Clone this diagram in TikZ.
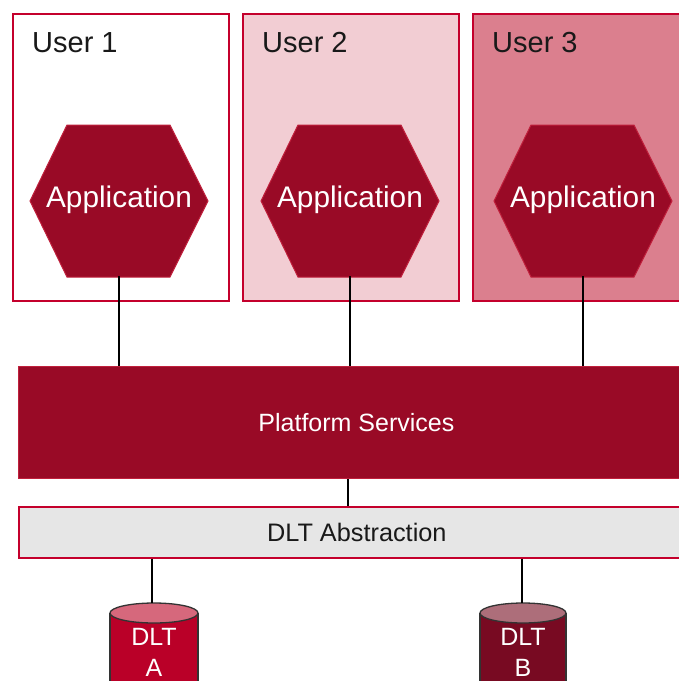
\documentclass[tikz,border=0pt]{standalone}
\usepackage{fontspec}
\setmainfont{Liberation Sans}
\definecolor{crim}{HTML}{C4002C}
\definecolor{appred}{HTML}{990A26}
\definecolor{appedge}{HTML}{C0203C}
\definecolor{utwo}{HTML}{F2CDD3}
\definecolor{uthree}{HTML}{DB7F8E}
\definecolor{absgray}{HTML}{E6E6E6}
\definecolor{cylAbody}{HTML}{BA0028}
\definecolor{cylAtop}{HTML}{D6687C}
\definecolor{cylBbody}{HTML}{780A22}
\definecolor{cylBtop}{HTML}{AD6E7A}
\begin{document}
\begin{tikzpicture}[x=1pt,y=-1pt,
  userbox/.style={draw=crim,line width=1.8pt,minimum width=216pt,minimum height=287pt,anchor=north west,inner sep=0pt},
  userlabel/.style={anchor=base west,inner sep=0pt,font=\fontsize{29}{34}\selectfont,text=black!90},
  hexshape/.style={fill=appred,draw=appedge,line width=1pt},
  apptext/.style={text=white,font=\fontsize{29.8}{34}\selectfont,minimum width=178pt,minimum height=152pt,inner sep=0pt},
  layerbox/.style={anchor=north west,inner sep=0pt,minimum width=676pt},
  conn/.style={draw=black,line width=1.5pt},
  cylborder/.style={draw=black!80,line width=1.3pt},
  cyltext/.style={text=white,align=center,font=\fontsize{25}{31}\selectfont,inner sep=0pt}
]
\useasboundingbox (0,0) rectangle (679,681);
\clip (0,0) rectangle (679,681);
\fill[white] (0,0) rectangle (679,681);

% user boxes
\node[userbox,fill=white] (u1) at (12,13) {};
\node[userbox,fill=utwo] (u2) at (242,13) {};
\node[userbox,fill=uthree] (u3) at (472,13) {};
\node[userlabel] (l1) at (32,52) {User 1};
\node[userlabel] (l2) at (262,52) {User 2};
\node[userlabel] (l3) at (492,52) {User 3};

% hexagons
\foreach \cx/\nm in {119/a1,350/a2,583/a3}{
  \draw[hexshape,shift={(\cx,201)}] (-89,0) -- (-52,-76) -- (51,-76) -- (89,0) -- (51,76) -- (-52,76) -- cycle;
  \node[apptext] (\nm) at (\cx,200) {Application};
}

% layers
\node[layerbox,fill=appred,draw=appedge,line width=0.8pt,minimum height=112pt,text=white,font=\fontsize{25}{29}\selectfont] (ps) at (18,366) {Platform Services};
\node[layerbox,fill=absgray,draw=crim,line width=1.6pt,minimum height=51pt,text=black!90,font=\fontsize{25.3}{30}\selectfont] (abs) at (18,506) {DLT Abstraction};

% connectors apps -> platform
\foreach \nm in {a1,a2,a3}{
  \draw[conn] (\nm.south) -- (\nm.south |- ps.north);
}
\coordinate (pj) at (348,0);
\draw[conn] (pj |- ps.south) -- (pj |- abs.north);

% cylinders
\draw[cylborder,fill=cylAbody] (110,613) -- (110,700) -- (198,700) -- (198,613);
\draw[cylborder,fill=cylAtop] (154,613) ellipse (44 and 10);
\node[cyltext] (dA) at (154,652) {DLT\\A};
\draw[cylborder,fill=cylBbody] (480,613) -- (480,700) -- (566,700) -- (566,613);
\draw[cylborder,fill=cylBtop] (523,613) ellipse (43 and 10);
\node[cyltext] (dB) at (523,652) {DLT\\B};
\coordinate (tA) at (152,603);
\coordinate (tB) at (522,603);
\draw[conn] (tA |- abs.south) -- (tA);
\draw[conn] (tB |- abs.south) -- (tB);
\end{tikzpicture}
\end{document}
